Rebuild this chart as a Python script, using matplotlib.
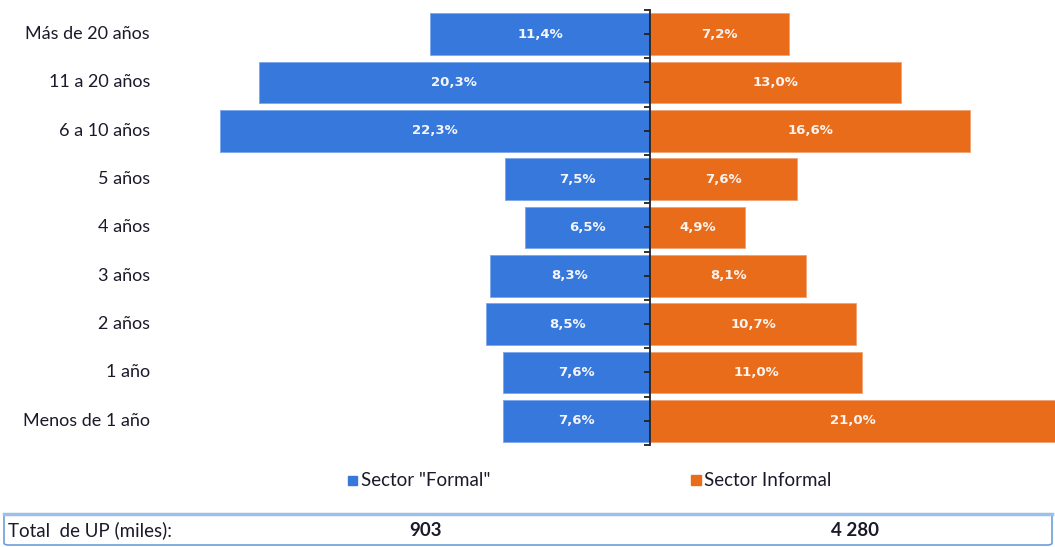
import matplotlib.pyplot as plt
import matplotlib.transforms as mtransforms
from matplotlib.patches import FancyBboxPatch, Rectangle
import numpy as np


CATEGORIES      = ["Más de 20 años", "11 a 20 años", "6 a 10 años", "5 años", "4 años",
                   "3 años", "2 años", "1 año", "Menos de 1 año"]
FORMAL          = [11.4, 20.3, 22.3, 7.5, 6.5, 8.3, 8.5, 7.6, 7.6]
INFORMAL        = [7.2, 13.0, 16.6, 7.6, 4.9, 8.1, 10.7, 11.0, 21.0]
SERIES_LABELS   = ['Sector "Formal"', "Sector Informal"]
TOTAL_LABEL     = "Total  de UP (miles):"
TOTALS          = ["903", "4 280"]

BLUE    = "#3778DC"
ORANGE  = "#E96C1B"
TEXT    = "#1a1a2a"

plt.rcParams["font.family"] = ["Lato", "DejaVu Sans"]

W, H = 1055, 547
fig = plt.figure(figsize=(W / 100, H / 100), dpi=100)

# axes placed in pixel units of the reference
left_px, right_px, top_px, bottom_px = 160, 1055, 10, 445
ax = fig.add_axes([left_px / W, 1 - bottom_px / H,
                   (right_px - left_px) / W, (bottom_px - top_px) / H])

y = np.arange(len(CATEGORIES))
formal = np.array(FORMAL)
informal = np.array(INFORMAL)

ax.barh(y, -formal, height=0.86, color=BLUE, edgecolor="#7aa6ea", linewidth=0.6)
ax.barh(y, informal, height=0.86, color=ORANGE, edgecolor="#f0a070", linewidth=0.6)

# etiquetas de valores dentro de las barras
for i in range(len(CATEGORIES)):
  ax.text(-formal[i] / 2, y[i], f"{formal[i]:.1f}%".replace(".", ","),
          ha="center", va="center", color="#f4f6fb", fontsize=9.5,
          fontweight="bold", family="DejaVu Sans")
  ax.text(informal[i] / 2, y[i], f"{informal[i]:.1f}%".replace(".", ","),
          ha="center", va="center", color="#fbf3ee", fontsize=9.5,
          fontweight="bold", family="DejaVu Sans")

# 21 % llega al borde derecho
scale = (right_px - 650) / 21.0
ax.set_xlim(-(650 - left_px) / scale, 21.0)
ax.set_ylim(len(CATEGORIES) - 0.5, -0.5)

for s in ["top", "right", "bottom"]:
  ax.spines[s].set_visible(False)
ax.spines["left"].set_position(("data", 0))
ax.spines["left"].set_linewidth(1.3)
ax.spines["left"].set_color("#222222")
ax.set_xticks([])
ax.set_yticks(np.arange(-0.5, len(CATEGORIES), 1.0))
ax.set_yticks(y, minor=True)
ax.tick_params(axis="y", which="both", length=4, width=1.3, color="#222222",
               labelleft=False, direction="out")

# categorias
trans = mtransforms.blended_transform_factory(fig.transFigure, ax.transData)
for i, cat in enumerate(CATEGORIES):
  fig.text(150 / W, y[i], cat, transform=trans, ha="right", va="center",
           fontsize=13, color=TEXT)

# leyenda
leg_y = 1 - 480 / H
fig.patches.append(Rectangle((348 / W, leg_y - 4.5 / H), 9 / W, 9 / H,
                             transform=fig.transFigure, color=BLUE))
fig.text(361 / W, leg_y, SERIES_LABELS[0], ha="left", va="center", fontsize=13.5, color=TEXT)
fig.patches.append(Rectangle((691 / W, leg_y - 5 / H), 10 / W, 10 / H,
                             transform=fig.transFigure, color=ORANGE))
fig.text(704 / W, leg_y, SERIES_LABELS[1], ha="left", va="center", fontsize=13.5, color=TEXT)

# caja de totales
box = FancyBboxPatch((4 / W, 1 - 545 / H), 1048 / W, 31 / H,
                     boxstyle="round,pad=0,rounding_size=0.004",
                     transform=fig.transFigure, facecolor="white",
                     edgecolor="#6f9fd8", linewidth=1.2)
fig.patches.append(box)
fig.lines.append(plt.Line2D([4 / W, 1052 / W], [1 - 514 / H, 1 - 514 / H],
                            transform=fig.transFigure, color="#9cc0ea", linewidth=2.5))
ty = 1 - 530 / H
fig.text(8 / W, ty, TOTAL_LABEL, ha="left", va="center", fontsize=13.5, color=TEXT)
fig.text(426 / W, ty, TOTALS[0], ha="center", va="center", fontsize=13.5,
         fontweight="bold", color=TEXT)
fig.text(855 / W, ty, TOTALS[1], ha="center", va="center", fontsize=13.5,
         fontweight="bold", color=TEXT)

fig.savefig("out.png", dpi=100)
